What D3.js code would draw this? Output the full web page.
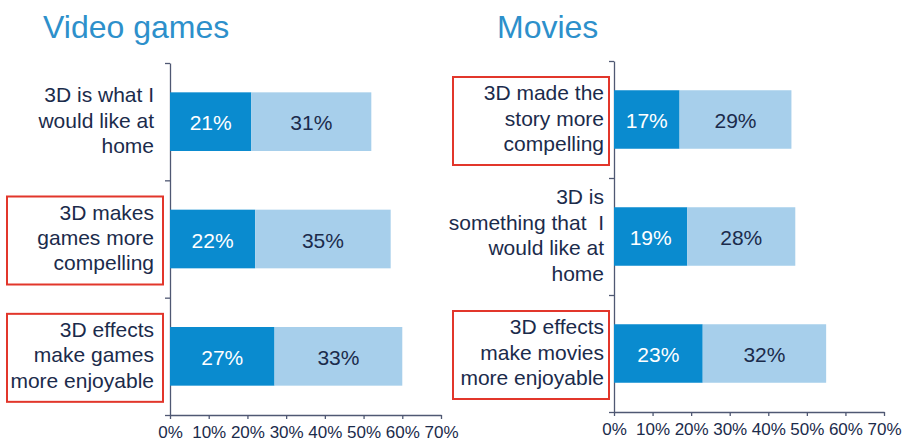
<!DOCTYPE html>
<html>
<head>
<meta charset="utf-8">
<script src="https://cdn.jsdelivr.net/npm/d3@7"></script>
<style>
  html, body { margin: 0; padding: 0; background: #ffffff; }
  svg { display: block; font-family: "Liberation Sans", Arial, Helvetica, sans-serif; }
  .cat-label { white-space: pre; }
</style>
</head>
<body>
<svg id="chart" width="906" height="441"></svg>
<script>
// Percent axis ticks shared by both panels
const xTicks = [0, 10, 20, 30, 40, 50, 60, 70];

// Video games panel
const videoTitle = "Video games";
const videoCategories = [
  ["3D is what I", "would like at", "home"],
  ["3D makes", "games more", "compelling"],
  ["3D effects", "make games", "more enjoyable"]
];
const videoFirst = [21, 22, 27];
const videoSecond = [31, 35, 33];
const videoBoxed = [false, true, true];

// Movies panel
const movieTitle = "Movies";
const movieCategories = [
  ["3D made the", "story more", "compelling"],
  ["3D is", "something that  I", "would like at", "home"],
  ["3D effects", "make movies", "more enjoyable"]
];
const movieFirst = [17, 19, 23];
const movieSecond = [29, 28, 32];
const movieBoxed = [true, false, true];

const COLORS = {
  first: "#0a8bcf",
  second: "#a7cfeb",
  text: "#1b2b4b",
  title: "#2d90cb",
  axis: "#4f5873",
  box: "#e2362b"
};

const svg = d3.select("#chart");

function drawPanel(opt) {
  const g = svg.append("g");
  const n = opt.categories.length;

  const x = d3.scaleLinear()
    .domain([0, d3.max(xTicks)])
    .range([opt.left, opt.right]);

  const y = d3.scaleBand()
    .domain(d3.range(n))
    .range([opt.top, opt.bottom])
    .paddingInner(0.5)
    .paddingOuter(0.25);

  // Category boundary axis on the left
  const yb = d3.scaleLinear().domain([0, n]).range([opt.top, opt.bottom]);
  const yAxis = g.append("g")
    .attr("transform", `translate(${opt.left},0)`)
    .call(d3.axisLeft(yb).tickValues(d3.range(n + 1)).tickFormat("").tickSize(5).tickSizeOuter(0));
  yAxis.selectAll("path, line").attr("stroke", COLORS.axis).attr("stroke-width", 1.3);

  // Bottom percent axis
  const xAxis = g.append("g")
    .attr("transform", `translate(0,${opt.bottom})`)
    .call(d3.axisBottom(x).tickValues(xTicks).tickFormat(d => d + "%").tickSize(4).tickSizeOuter(0).tickPadding(7));
  xAxis.selectAll("path, line").attr("stroke", COLORS.axis).attr("stroke-width", 1.3);
  xAxis.selectAll("text")
    .attr("fill", COLORS.text)
    .style("font-size", "17px")
    .style("font-family", "'Liberation Sans', Arial, sans-serif");

  // Stacked bars
  const rows = opt.categories.map((c, i) => ({
    i, a: opt.first[i], b: opt.second[i]
  }));

  const bars = g.append("g").selectAll("g").data(rows).join("g");
  bars.append("rect")
    .attr("x", d => x(0))
    .attr("y", d => y(d.i))
    .attr("width", d => x(d.a) - x(0))
    .attr("height", y.bandwidth())
    .attr("fill", COLORS.first);
  bars.append("rect")
    .attr("x", d => x(d.a))
    .attr("y", d => y(d.i))
    .attr("width", d => x(d.a + d.b) - x(d.a))
    .attr("height", y.bandwidth())
    .attr("fill", COLORS.second);

  bars.append("text")
    .attr("x", d => x(d.a / 2))
    .attr("y", d => y(d.i) + y.bandwidth() / 2 + 8.5)
    .attr("text-anchor", "middle")
    .attr("fill", "#ffffff")
    .style("font-size", "21px")
    .text(d => d.a + "%");
  bars.append("text")
    .attr("x", d => x(d.a + d.b / 2))
    .attr("y", d => y(d.i) + y.bandwidth() / 2 + 8.5)
    .attr("text-anchor", "middle")
    .attr("fill", COLORS.text)
    .style("font-size", "21px")
    .text(d => d.b + "%");

  // Category labels, right aligned beside the axis
  const lh = 25.4;
  opt.categories.forEach((lines, i) => {
    const cy = y(i) + y.bandwidth() / 2;
    const t = g.append("text")
      .attr("class", "cat-label")
      .attr("text-anchor", "end")
      .attr("fill", COLORS.text)
      .style("font-size", "21px");
    lines.forEach((line, k) => {
      t.append("tspan")
        .attr("x", opt.left - opt.labelGap)
        .attr("y", cy + (k - (lines.length - 1) / 2) * lh + 6)
        .text(line);
    });
    if (opt.boxed[i]) {
      g.append("rect")
        .attr("x", opt.left - opt.boxGap - 156)
        .attr("y", cy + 1.5 - 44)
        .attr("width", 156)
        .attr("height", 88)
        .attr("fill", "none")
        .attr("stroke", COLORS.box)
        .attr("stroke-width", 2);
    }
  });

  // Panel title
  g.append("text")
    .attr("x", opt.titleX)
    .attr("y", 38)
    .attr("fill", COLORS.title)
    .style("font-size", "32px")
    .text(opt.title);
}

drawPanel({
  title: videoTitle, titleX: 43,
  categories: videoCategories, first: videoFirst, second: videoSecond, boxed: videoBoxed,
  left: 170, right: 441, top: 63, bottom: 415,
  labelGap: 16, boxGap: 7
});

drawPanel({
  title: movieTitle, titleX: 497,
  categories: movieCategories, first: movieFirst, second: movieSecond, boxed: movieBoxed,
  left: 614, right: 884, top: 61, bottom: 412,
  labelGap: 10, boxGap: 5
});
</script>
</body>
</html>
